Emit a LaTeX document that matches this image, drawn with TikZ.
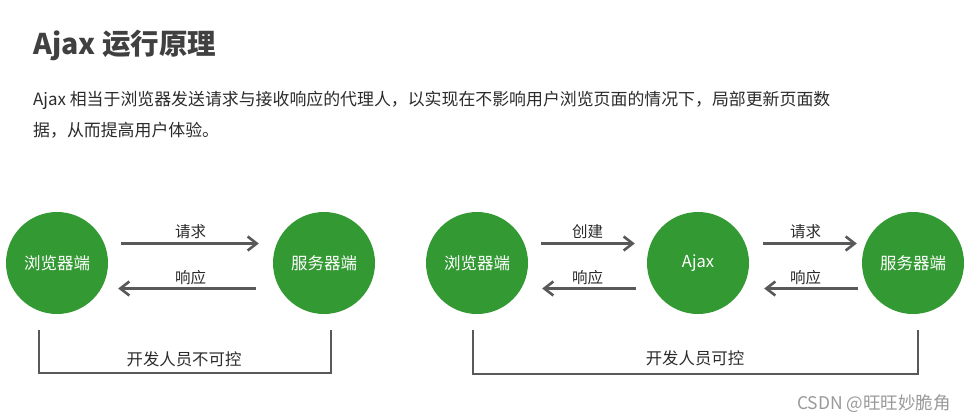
\documentclass[tikz,border=0pt]{standalone}
\usepackage{fontspec}
\setmainfont{Noto Sans CJK SC}
\usetikzlibrary{arrows.meta}
\definecolor{ajaxgreen}{HTML}{339933}
\definecolor{arrowgray}{HTML}{595959}
\definecolor{textgray}{HTML}{2B2B2B}
\tikzset{
 endpoint/.style={circle,fill=ajaxgreen,minimum size=102pt,inner sep=0,text=white,font=\fontsize{16.5}{16.5}\selectfont},
 flow/.style={draw=arrowgray,line width=2.6pt,-{Straight Barb[length=9pt,width=14pt]}},
 flowtext/.style={text=textgray,inner sep=0,font=\fontsize{15.5}{15.5}\selectfont},
 bracket/.style={draw=arrowgray,line width=2.4pt},
 bracketext/.style={text=textgray,inner sep=0,font=\fontsize{16.4}{16.4}\selectfont},
 headline/.style={anchor=west,inner sep=0,text=black!75,font=\fontsize{28.5}{28.5}\selectfont\bfseries},
 bodyline/.style={anchor=west,inner sep=0,text=textgray,font=\fontsize{16.9}{16.9}\selectfont},
 watermark/.style={anchor=east,inner sep=0,text=black!40,font=\fontsize{17.5}{17.5}\selectfont}
}
\begin{document}
\begin{tikzpicture}[x=1pt,y=-1pt]
\path[use as bounding box] (0,0) rectangle (966,420);
\node[headline] (title) at (33,45) {Ajax 运行原理};
\node[bodyline] (line1) at (33,100) {Ajax 相当于浏览器发送请求与接收响应的代理人，以实现在不影响用户浏览页面的情况下，局部更新页面数};
\node[bodyline] (line2) at (33,130) {据，从而提高用户体验。};
% without Ajax
\node[endpoint] (browserA) at (57,263) {浏览器端};
\node[endpoint] (serverA) at (324,263) {服务器端};
\draw[flow,shorten <=13pt,shorten >=14pt] ([yshift=19.5pt]browserA.east) -- node[flowtext,above=3pt] {请求} ([yshift=19.5pt]serverA.west);
\draw[flow,shorten <=17pt,shorten >=10pt] ([yshift=-25.5pt]serverA.west) -- node[flowtext,above=2pt] {响应} ([yshift=-25.5pt]browserA.east);
\coordinate (bracketAl) at (39,330);
\coordinate (bracketAr) at (331,330);
\draw[bracket] (bracketAl) -- ++(0,43) -| (bracketAr);
\node[bracketext] (ctrlA) at (184,359) {开发人员不可控};
% with Ajax
\node[endpoint] (browserB) at (477,263) {浏览器端};
\node[endpoint] (ajax) at (698,263) {Ajax};
\node[endpoint] (serverB) at (913,263) {服务器端};
\draw[flow,shorten <=13pt,shorten >=12pt] ([yshift=19.5pt]browserB.east) -- node[flowtext,above=3pt] {创建} ([yshift=19.5pt]ajax.west);
\draw[flow,shorten <=11pt,shorten >=14pt] ([yshift=-25.5pt]ajax.west) -- node[flowtext,above=2pt] {响应} ([yshift=-25.5pt]browserB.east);
\draw[flow,shorten <=14pt,shorten >=5pt] ([yshift=19.5pt]ajax.east) -- node[flowtext,above=3pt] {请求} ([yshift=19.5pt]serverB.west);
\draw[flow,shorten <=4pt,shorten >=15pt] ([yshift=-25.5pt]serverB.west) -- node[flowtext,above=2pt] {响应} ([yshift=-25.5pt]ajax.east);
\coordinate (bracketBl) at (473,330);
\coordinate (bracketBr) at (918,330);
\draw[bracket] (bracketBl) -- ++(0,44) -| (bracketBr);
\node[bracketext] (ctrlB) at (695,358) {开发人员可控};
\node[watermark] (mark) at (951,404) {CSDN @旺旺妙脆角};
\end{tikzpicture}
\end{document}
